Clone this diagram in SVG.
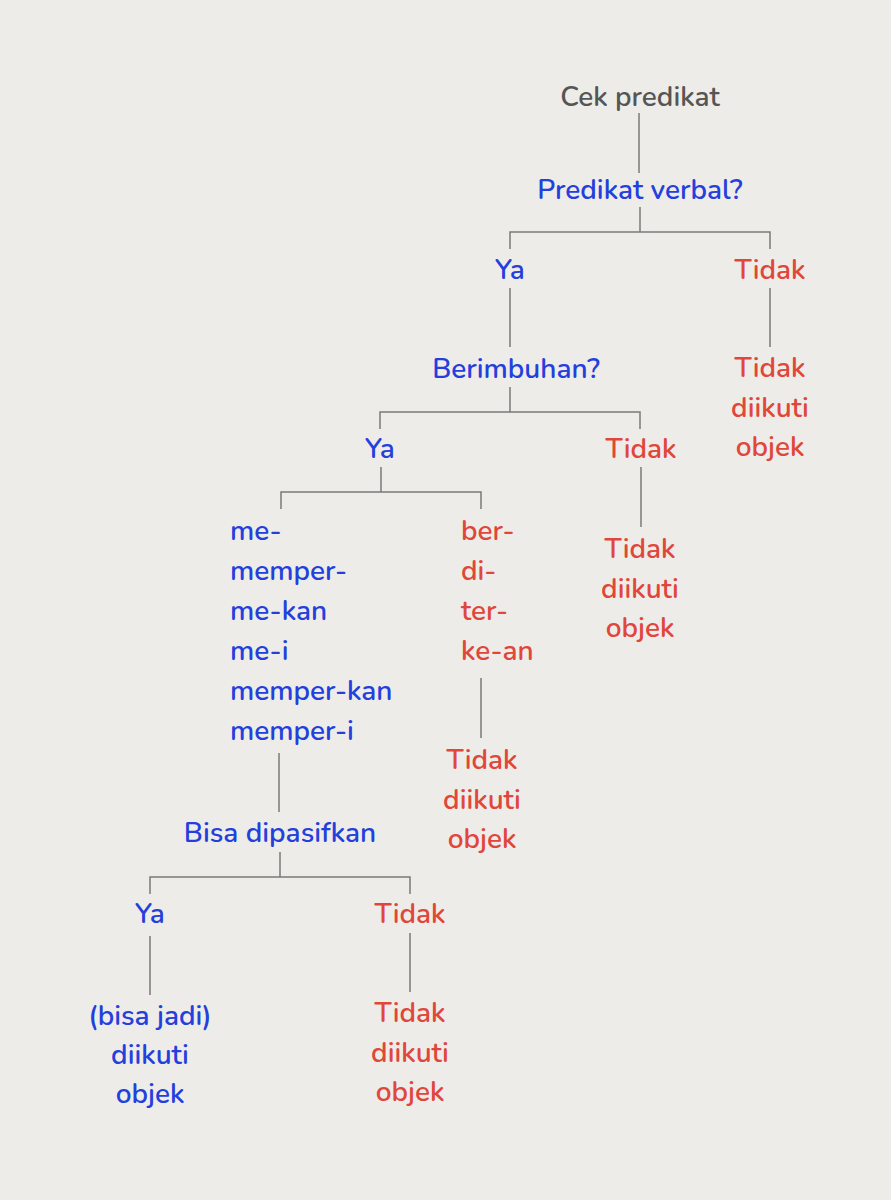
<svg xmlns="http://www.w3.org/2000/svg" width="891" height="1200" viewBox="0 0 891 1200">
<style>
text{font-family:"Nunito","Open Sans","Noto Sans",sans-serif;font-size:28px;font-weight:600}
.c{text-anchor:middle}
.b{fill:#2340dc}
.r{fill:#e0463a}
.g{fill:#555555}
.ln{stroke:#7a7a7a;stroke-width:1.5;fill:none}
</style>
<rect width="891" height="1200" fill="#eeece8"/>
<g id="connectors" class="ln">
<path d="M639 113V173"/>
<path d="M640 207V232M510 249V232H770V249"/>
<path d="M510 288V347"/>
<path d="M770 288V347"/>
<path d="M510 387V412M380 429V412H640V429"/>
<path d="M381 467V492M281 509V492H481V509"/>
<path d="M641 467V527"/>
<path d="M481 678V738"/>
<path d="M279 753V812"/>
<path d="M280 852V877M150 894V877H410V894"/>
<path d="M150 936V995"/>
<path d="M410 933V992"/>
</g>
<g id="n-cek"><text class="c g" x="640" y="106">Cek predikat</text></g>
<g id="n-verbal"><text class="c b" x="640" y="199">Predikat verbal?</text></g>
<g id="n-ya1"><text class="c b" x="510" y="279">Ya</text></g>
<g id="n-tidak1"><text class="c r" x="770" y="279">Tidak</text></g>
<g id="n-res1"><text class="c r" x="770" y="377">Tidak</text><text class="c r" x="770" y="417">diikuti</text><text class="c r" x="770" y="456">objek</text></g>
<g id="n-imbuhan"><text class="c b" x="516" y="378">Berimbuhan?</text></g>
<g id="n-ya2"><text class="c b" x="380" y="458">Ya</text></g>
<g id="n-tidak2"><text class="c r" x="641" y="458">Tidak</text></g>
<g id="n-res2"><text class="c r" x="640" y="558">Tidak</text><text class="c r" x="640" y="598">diikuti</text><text class="c r" x="640" y="637">objek</text></g>
<g id="n-afiks-b"><text class="b" x="230" y="540">me-</text><text class="b" x="230" y="580">memper-</text><text class="b" x="230" y="620">me-kan</text><text class="b" x="230" y="660">me-i</text><text class="b" x="230" y="700">memper-kan</text><text class="b" x="230" y="740">memper-i</text></g>
<g id="n-afiks-r"><text class="r" x="461" y="540">ber-</text><text class="r" x="461" y="580">di-</text><text class="r" x="461" y="620">ter-</text><text class="r" x="461" y="660">ke-an</text></g>
<g id="n-res3"><text class="c r" x="482" y="769">Tidak</text><text class="c r" x="482" y="809">diikuti</text><text class="c r" x="482" y="848">objek</text></g>
<g id="n-pasif"><text class="c b" x="280" y="842">Bisa dipasifkan</text></g>
<g id="n-ya3"><text class="c b" x="150" y="923">Ya</text></g>
<g id="n-tidak3"><text class="c r" x="410" y="923">Tidak</text></g>
<g id="n-res4"><text class="c b" x="150" y="1025">(bisa jadi)</text><text class="c b" x="150" y="1064">diikuti</text><text class="c b" x="150" y="1103">objek</text></g>
<g id="n-res5"><text class="c r" x="410" y="1022">Tidak</text><text class="c r" x="410" y="1062">diikuti</text><text class="c r" x="410" y="1101">objek</text></g>
</svg>
